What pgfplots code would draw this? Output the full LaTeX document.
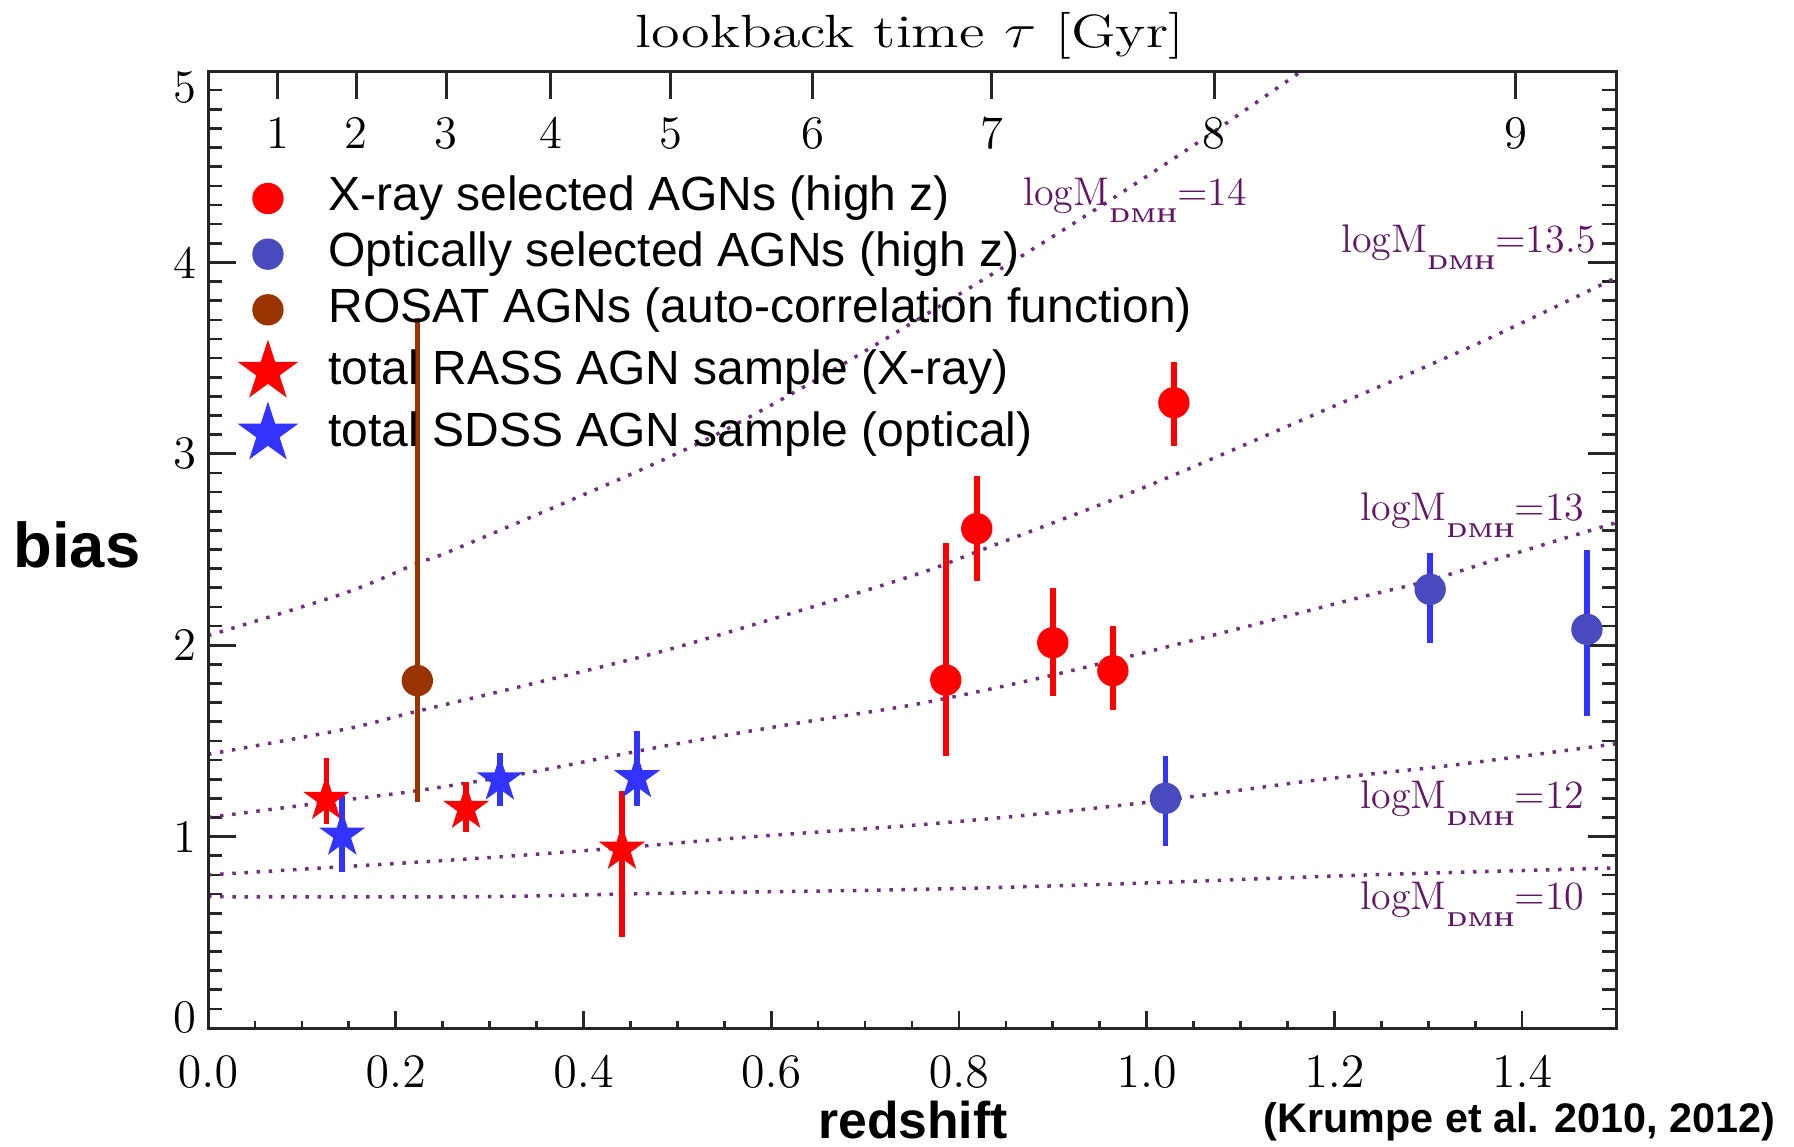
\documentclass[border=0pt]{standalone}
\usepackage{fontspec}
\newfontfamily\arial{Liberation Sans}
\usepackage{pgfplots}
\pgfplotsset{compat=1.18}
\usetikzlibrary{calc}

\definecolor{xred}{RGB}{255,0,0}
\definecolor{oblue}{RGB}{74,74,191}
\definecolor{sblue}{RGB}{51,51,255}
\definecolor{rbrown}{RGB}{153,51,0}
\definecolor{mlab}{RGB}{96,24,100}
\definecolor{mcurve}{RGB}{110,50,125}

% filled five-pointed star
\pgfdeclareplotmark{fstar}{%
  \pgfpathmoveto{\pgfpointpolar{90}{\pgfplotmarksize}}%
  \pgfpathlineto{\pgfpointpolar{126}{0.382\pgfplotmarksize}}%
  \pgfpathlineto{\pgfpointpolar{162}{\pgfplotmarksize}}%
  \pgfpathlineto{\pgfpointpolar{198}{0.382\pgfplotmarksize}}%
  \pgfpathlineto{\pgfpointpolar{234}{\pgfplotmarksize}}%
  \pgfpathlineto{\pgfpointpolar{270}{0.382\pgfplotmarksize}}%
  \pgfpathlineto{\pgfpointpolar{306}{\pgfplotmarksize}}%
  \pgfpathlineto{\pgfpointpolar{342}{0.382\pgfplotmarksize}}%
  \pgfpathlineto{\pgfpointpolar{18}{\pgfplotmarksize}}%
  \pgfpathlineto{\pgfpointpolar{54}{0.382\pgfplotmarksize}}%
  \pgfpathclose
  \pgfusepathqfill}

\newcommand{\mlabel}[1]{logM\raisebox{-5.1pt}{\fontsize{6}{7}\selectfont\bfseries DMH}=#1}

\begin{document}
\begin{tikzpicture}
\pgfplotsset{frame/.style={width=422.4pt, height=287.1pt, scale only axis,
  xmin=0, xmax=1.5, ymin=0, ymax=5,
  axis line style={line width=0.9pt, black!85},
  tick style={line width=0.8pt, black!85},
  tick label style={font=\fontsize{14}{16}\selectfont}},
  curve/.style={mcurve, line width=1.05pt, dash pattern=on 1.05pt off 2.6pt, smooth, forget plot},
  ebar/.style={error bars/.cd, y dir=both, y explicit, error mark=none,
    error bar style={line width=1.65pt, #1}}}

% main axis: data, curves, y ticks
\begin{axis}[frame, xtick=\empty,
  ytick={0,1,2,3,4,5}, minor y tick num=9, ytick pos=both, yticklabel pos=left,
  yticklabels={\raisebox{3.3pt}[\height][\depth]{0},1,2,3,4,\raisebox{-4.8pt}[\height][\depth]{5}},
  major tick length=8.3pt, minor tick length=4.1pt,
  legend style={at={(0.0205,0.8945)}, anchor=north west, draw=none, fill=none,
    inner sep=0pt, row sep=1.2pt, column sep=8pt,
    font=\arial\fontsize{14.4}{17}\selectfont,
    nodes={inner sep=1pt, text height=10.5pt, text depth=3pt}},
  legend cell align=left]
\coordinate (sw) at (rel axis cs:0,0);

\addlegendimage{only marks, mark=*, mark size=4.5pt, xred, mark options={fill=xred, draw=xred}}
\addlegendentry{X-ray selected AGNs (high z)}
\addlegendimage{only marks, mark=*, mark size=4.5pt, oblue, mark options={fill=oblue, draw=oblue}}
\addlegendentry{Optically selected AGNs (high z)}
\addlegendimage{only marks, mark=*, mark size=4.5pt, rbrown, mark options={fill=rbrown, draw=rbrown}}
\addlegendentry{ROSAT AGNs (auto-correlation function)}
\addlegendimage{only marks, mark=fstar, mark size=9.6pt, xred, mark options={fill=xred, draw=none}}
\addlegendentry{total RASS AGN sample (X-ray)}
\addlegendimage{only marks, mark=fstar, mark size=9.6pt, sblue, mark options={fill=sblue, draw=none}}
\addlegendentry{total SDSS AGN sample (optical)}

% bias of dark matter haloes of fixed mass
\addplot[curve] coordinates {(0,2.05) (0.145,2.271) (0.223,2.428) (0.261,2.497) (0.434,2.858)
  (0.531,3.075) (0.627,3.328) (0.724,3.607) (0.864,4.025) (0.965,4.338) (1.062,4.651) (1.165,5.0) (1.19,5.09)};
\addplot[curve] coordinates {(0,1.43) (0.145,1.56) (0.223,1.655) (0.338,1.79) (0.483,1.967)
  (0.627,2.175) (0.756,2.372) (0.82,2.49) (1.0,2.83) (1.2,3.25) (1.35,3.57) (1.5,3.92)};
\addplot[curve] coordinates {(0,1.10) (0.145,1.191) (0.223,1.240) (0.338,1.331) (0.483,1.470)
  (0.627,1.592) (0.756,1.693) (0.893,1.836) (1.037,2.010) (1.23,2.253) (1.303,2.341) (1.404,2.497) (1.5,2.64)};
\addplot[curve] coordinates {(0,0.80) (0.145,0.843) (0.289,0.887) (0.434,0.939) (0.579,0.999)
  (0.756,1.061) (0.893,1.122) (1.02,1.191) (1.182,1.296) (1.327,1.374) (1.5,1.485)};
\addplot[curve] coordinates {(0,0.686) (0.289,0.686) (0.483,0.704) (0.756,0.724) (0.989,0.756)
  (1.23,0.799) (1.5,0.836)};

\node[mlab, anchor=base west, inner sep=0pt, font=\fontsize{12}{14}\selectfont] at (axis cs:0.868,4.295) {\mlabel{14}};
\node[mlab, anchor=base east, inner sep=0pt, font=\fontsize{12}{14}\selectfont] at (axis cs:1.479,4.05) {\mlabel{13.5}};
\node[mlab, anchor=base east, inner sep=0pt, font=\fontsize{12}{14}\selectfont] at (axis cs:1.467,2.649) {\mlabel{13}};
\node[mlab, anchor=base east, inner sep=0pt, font=\fontsize{12}{14}\selectfont] at (axis cs:1.467,1.148) {\mlabel{12}};
\node[mlab, anchor=base east, inner sep=0pt, font=\fontsize{12}{14}\selectfont] at (axis cs:1.467,0.617) {\mlabel{10}};

% ROSAT AGNs
\addplot[only marks, forget plot, mark=*, mark size=4.5pt, rbrown, mark options={fill=rbrown, draw=rbrown}, ebar=rbrown]
  table[x=z, y=b, y error plus=ep, y error minus=em] {
z     b     ep    em
0.223 1.815 1.896 0.636
};
% total RASS AGN sample
\addplot[only marks, forget plot, mark=fstar, mark size=7.3pt, xred, mark options={fill=xred, draw=none}, ebar=xred]
  table[x=z, y=b, y error plus=ep, y error minus=em] {
z     b     ep    em
0.126 1.195 0.214 0.129
0.275 1.148 0.139 0.122
0.441 0.934 0.306 0.457
};
% total SDSS AGN sample
\addplot[only marks, forget plot, mark=fstar, mark size=7.3pt, sblue, mark options={fill=sblue, draw=none}, ebar=sblue]
  table[x=z, y=b, y error plus=ep, y error minus=em] {
z     b     ep    em
0.143 1.008 0.204 0.191
0.311 1.296 0.139 0.136
0.457 1.308 0.245 0.146
};
% X-ray selected AGNs (high z)
\addplot[only marks, forget plot, mark=*, mark size=4.5pt, xred, mark options={fill=xred, draw=xred}, ebar=xred]
  table[x=z, y=b, y error plus=ep, y error minus=em] {
z     b     ep    em
0.786 1.818 0.716 0.395
0.819 2.609 0.275 0.274
0.900 2.013 0.284 0.277
0.964 1.867 0.235 0.207
1.029 3.267 0.214 0.226
};
% Optically selected AGNs (high z)
\addplot[only marks, forget plot, mark=*, mark size=4.5pt, oblue, mark options={fill=oblue, draw=oblue}, ebar=sblue]
  table[x=z, y=b, y error plus=ep, y error minus=em] {
z     b     ep    em
1.020 1.200 0.221 0.249
1.302 2.292 0.191 0.279
1.469 2.083 0.414 0.451
};
\end{axis}

% redshift ticks (bottom)
\begin{axis}[frame, ytick=\empty,
  xtick={0,0.2,0.4,0.6,0.8,1.0,1.2,1.4}, minor x tick num=3,
  xtick pos=left, xticklabel pos=left,
  major tick length=5pt, minor tick length=2pt,
  xticklabel style={yshift=-4.9pt, /pgf/number format/.cd, fixed, fixed zerofill, precision=1}]
\end{axis}

% lookback time ticks (top)
\begin{axis}[frame, axis x line*=top, axis y line=none, tick align=inside,
  xtick={0.0742,0.158,0.254,0.365,0.493,0.644,0.835,1.072,1.393},
  xticklabels={1,2,3,4,5,6,7,8,9},
  major tick length=8.5pt,
  xticklabel style={anchor=north, yshift=-10.3pt}]
\end{axis}

\node[anchor=base, inner sep=0pt, font=\fontsize{14}{16}\selectfont] at ($(sw)+(210.6pt,294.3pt)$)
  {\scalebox{1.25}[1]{lookback time $\tau$ [Gyr]}};
\node[anchor=base, inner sep=0pt, font=\arial\bfseries\fontsize{19}{22}\selectfont] at ($(sw)+(-39.3pt,138.3pt)$) {bias};
\node[anchor=base, inner sep=0pt, font=\arial\bfseries\fontsize{15.5}{18}\selectfont] at ($(sw)+(211.5pt,-33pt)$) {redshift};
\node[anchor=base east, inner sep=0pt, font=\arial\bfseries\fontsize{12.4}{15}\selectfont] at ($(sw)+(470.4pt,-31.2pt)$) {(Krumpe et al. 2010, 2012)};

\pgfresetboundingbox
\path ($(sw)+(-62.4pt,-35.4pt)$) rectangle ($(sw)+(475.8pt,308.4pt)$);
\end{tikzpicture}
\end{document}
